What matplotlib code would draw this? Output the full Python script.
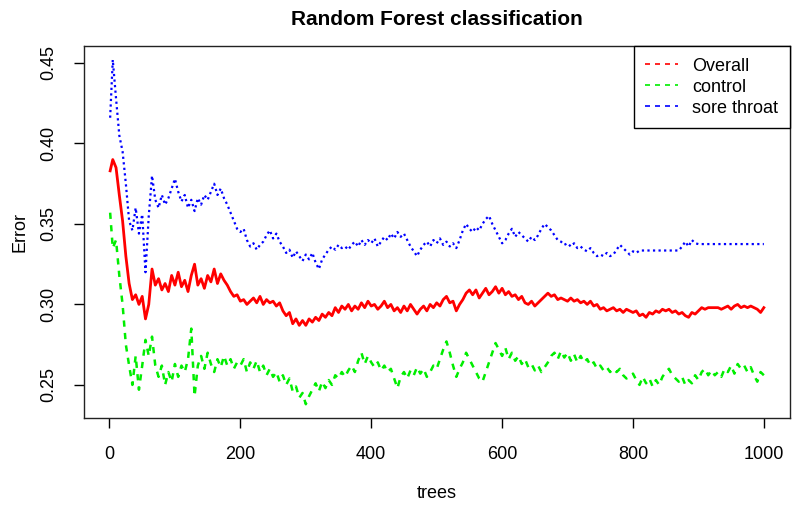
import matplotlib
matplotlib.use("Agg")
import matplotlib.pyplot as plt
from matplotlib.lines import Line2D

plt.rcParams['font.family'] = ['Liberation Sans', 'DejaVu Sans']

trees = [1] + list(range(5, 1001, 5))

overall = [
    0.383, 0.390, 0.385, 0.368, 0.352, 0.330, 0.313, 0.303, 0.306, 0.300,
    0.305, 0.291, 0.300, 0.322, 0.312, 0.316, 0.309, 0.313, 0.308, 0.318,
    0.312, 0.320, 0.311, 0.315, 0.308, 0.318, 0.325, 0.312, 0.316, 0.310,
    0.318, 0.314, 0.322, 0.313, 0.319, 0.315, 0.312, 0.308, 0.305, 0.306,
    0.302, 0.303, 0.300, 0.302, 0.304, 0.301, 0.305, 0.300, 0.303, 0.301,
    0.302, 0.299, 0.301, 0.296, 0.293, 0.295, 0.288, 0.291, 0.287, 0.290,
    0.287, 0.291, 0.289, 0.292, 0.290, 0.294, 0.292, 0.295, 0.293, 0.298,
    0.295, 0.299, 0.297, 0.300, 0.296, 0.299, 0.297, 0.301, 0.298, 0.302,
    0.299, 0.300, 0.297, 0.299, 0.302, 0.298, 0.300, 0.296, 0.298, 0.295,
    0.299, 0.296, 0.300, 0.297, 0.294, 0.297, 0.299, 0.296, 0.300, 0.298,
    0.301, 0.299, 0.303, 0.305, 0.301, 0.302, 0.296, 0.300, 0.303, 0.307,
    0.309, 0.306, 0.309, 0.304, 0.307, 0.310, 0.306, 0.308, 0.311, 0.307,
    0.310, 0.306, 0.308, 0.305, 0.306, 0.303, 0.305, 0.301, 0.300, 0.302,
    0.299, 0.301, 0.303, 0.305, 0.307, 0.305, 0.306, 0.303, 0.304, 0.303,
    0.302, 0.304, 0.302, 0.303, 0.301, 0.302, 0.300, 0.302, 0.299, 0.300,
    0.297, 0.298, 0.296, 0.297, 0.298, 0.296, 0.297, 0.295, 0.297, 0.296,
    0.295, 0.296, 0.293, 0.294, 0.292, 0.295, 0.294, 0.296, 0.295, 0.297,
    0.296, 0.297, 0.295, 0.296, 0.294, 0.295, 0.293, 0.292, 0.295, 0.294,
    0.296, 0.298, 0.297, 0.298, 0.298, 0.298, 0.298, 0.297, 0.298, 0.299,
    0.297, 0.299, 0.300, 0.298, 0.299, 0.298, 0.299, 0.298, 0.297, 0.295,
    0.298,
]

control = [
    0.357, 0.335, 0.340, 0.318, 0.300, 0.275, 0.262, 0.250, 0.268, 0.247,
    0.262, 0.278, 0.268, 0.280, 0.262, 0.255, 0.262, 0.250, 0.258, 0.252,
    0.263, 0.255, 0.262, 0.258, 0.266, 0.285, 0.243, 0.262, 0.268, 0.260,
    0.270, 0.263, 0.258, 0.266, 0.261, 0.268, 0.262, 0.266, 0.260, 0.264,
    0.262, 0.266, 0.258, 0.264, 0.260, 0.265, 0.258, 0.262, 0.256, 0.260,
    0.255, 0.258, 0.252, 0.256, 0.250, 0.254, 0.246, 0.249, 0.242, 0.245,
    0.238, 0.243, 0.247, 0.251, 0.246, 0.252, 0.248, 0.253, 0.250, 0.256,
    0.254, 0.258, 0.255, 0.259, 0.262, 0.258, 0.265, 0.270, 0.263, 0.268,
    0.264, 0.261, 0.264, 0.259, 0.262, 0.258, 0.260, 0.254, 0.248, 0.255,
    0.258, 0.254, 0.259, 0.256, 0.261, 0.257, 0.260, 0.255, 0.258, 0.262,
    0.260, 0.266, 0.272, 0.277, 0.270, 0.262, 0.255, 0.260, 0.264, 0.270,
    0.266, 0.262, 0.258, 0.254, 0.252, 0.258, 0.264, 0.270, 0.276, 0.272,
    0.268, 0.273, 0.266, 0.270, 0.265, 0.268, 0.263, 0.266, 0.261, 0.263,
    0.259, 0.262, 0.258, 0.261, 0.264, 0.268, 0.270, 0.266, 0.271, 0.267,
    0.270, 0.265, 0.269, 0.264, 0.268, 0.264, 0.266, 0.262, 0.264, 0.260,
    0.262, 0.259, 0.261, 0.258, 0.260, 0.258, 0.260, 0.256, 0.254, 0.255,
    0.257, 0.253, 0.250, 0.255, 0.251, 0.254, 0.249, 0.253, 0.250, 0.255,
    0.258, 0.260, 0.256, 0.254, 0.252, 0.255, 0.250, 0.253, 0.251, 0.256,
    0.253, 0.258, 0.260, 0.256, 0.259, 0.256, 0.258, 0.255, 0.260, 0.258,
    0.262, 0.257, 0.263, 0.260, 0.262, 0.258, 0.261, 0.256, 0.252, 0.258,
    0.256,
]

sore_throat = [
    0.416, 0.452, 0.428, 0.405, 0.395, 0.375, 0.352, 0.346, 0.360, 0.344,
    0.356, 0.320, 0.355, 0.380, 0.365, 0.360, 0.368, 0.362, 0.366, 0.372,
    0.378, 0.370, 0.364, 0.368, 0.360, 0.365, 0.358, 0.366, 0.362, 0.368,
    0.365, 0.370, 0.375, 0.368, 0.372, 0.366, 0.362, 0.357, 0.352, 0.347,
    0.345, 0.347, 0.340, 0.336, 0.338, 0.334, 0.337, 0.339, 0.343, 0.346,
    0.341, 0.344, 0.339, 0.336, 0.332, 0.334, 0.329, 0.333, 0.330, 0.327,
    0.331, 0.328, 0.332, 0.326, 0.322, 0.328, 0.331, 0.334, 0.336, 0.334,
    0.337, 0.335, 0.336, 0.334, 0.337, 0.339, 0.336, 0.340, 0.337, 0.340,
    0.338, 0.341, 0.336, 0.339, 0.342, 0.340, 0.344, 0.341, 0.345, 0.342,
    0.344, 0.340, 0.336, 0.333, 0.330, 0.334, 0.337, 0.339, 0.336, 0.340,
    0.338, 0.341, 0.337, 0.339, 0.336, 0.338, 0.335, 0.340, 0.346, 0.350,
    0.347, 0.345, 0.348, 0.346, 0.350, 0.353, 0.355, 0.350, 0.346, 0.342,
    0.338, 0.340, 0.344, 0.347, 0.342, 0.345, 0.343, 0.341, 0.339, 0.342,
    0.340, 0.343, 0.347, 0.350, 0.348, 0.346, 0.343, 0.340, 0.339, 0.337,
    0.338, 0.336, 0.338, 0.335, 0.336, 0.334, 0.333, 0.335, 0.332, 0.330,
    0.331, 0.330, 0.332, 0.330, 0.331, 0.334, 0.337, 0.335, 0.333, 0.331,
    0.333, 0.332, 0.3335, 0.3335, 0.3335, 0.3335, 0.3335, 0.3335, 0.3335, 0.3335,
    0.3335, 0.3335, 0.3335, 0.3335, 0.3335, 0.336, 0.339, 0.336, 0.340, 0.338,
    0.3375, 0.3375, 0.3375, 0.3375, 0.3375, 0.3375, 0.3375, 0.3375, 0.3375, 0.3375,
    0.3375, 0.3375, 0.3375, 0.3375, 0.3375, 0.3375, 0.3375, 0.3375, 0.3375, 0.3375,
    0.3375,
]

series_names = ["Overall", "control", "sore throat"]
colors = ["#FF0000", "#00EE00", "#0000FF"]

fig = plt.figure(figsize=(7.96, 5.08), dpi=100)
ax = fig.add_axes([84/796, 1 - 418/508, (790 - 84)/796, (418 - 46)/508])

ax.plot(trees, overall, color=colors[0], lw=2.0, linestyle='-')
ax.plot(trees, control, color=colors[1], lw=1.8, linestyle=(0, (2.5, 2.5)))
ax.plot(trees, sore_throat, color=colors[2], lw=1.6, linestyle=(0, (1, 1.5)))

allv = overall + control + sore_throat
ymin, ymax = min(allv), max(allv)
yr = ymax - ymin
ax.set_xlim(1 - 0.04 * 999, 1000 + 0.04 * 999)
ax.set_ylim(ymin - 0.04 * yr, ymax + 0.04 * yr)

ax.set_xticks([0, 200, 400, 600, 800, 1000])
ax.set_yticks([0.25, 0.30, 0.35, 0.40, 0.45])
ax.set_yticklabels(["0.25", "0.30", "0.35", "0.40", "0.45"], rotation=90, va='center')
ax.tick_params(axis='both', direction='out', length=7, width=1, labelsize=13, colors='black')
ax.tick_params(axis='x', pad=13)
ax.tick_params(axis='y', pad=12)
for s in ax.spines.values():
    s.set_linewidth(1)
    s.set_color('#222222')

ax.set_xlabel("trees", fontsize=13, labelpad=16)
ax.set_ylabel("Error", fontsize=13, labelpad=9)
ax.set_title("Random Forest classification", fontsize=15, fontweight='bold', pad=15)

handles = [Line2D([0], [0], color=c, lw=1.2, linestyle=(0, (3, 3))) for c in colors]
leg = ax.legend(handles, series_names, loc='upper right', borderaxespad=0, fontsize=13,
                frameon=True, fancybox=False, edgecolor='black', handlelength=1.8,
                handletextpad=0.8, labelspacing=0.22, borderpad=0.65)
leg.get_frame().set_linewidth(1)
leg.get_frame().set_alpha(1)

fig.savefig("out.png", dpi=100)
